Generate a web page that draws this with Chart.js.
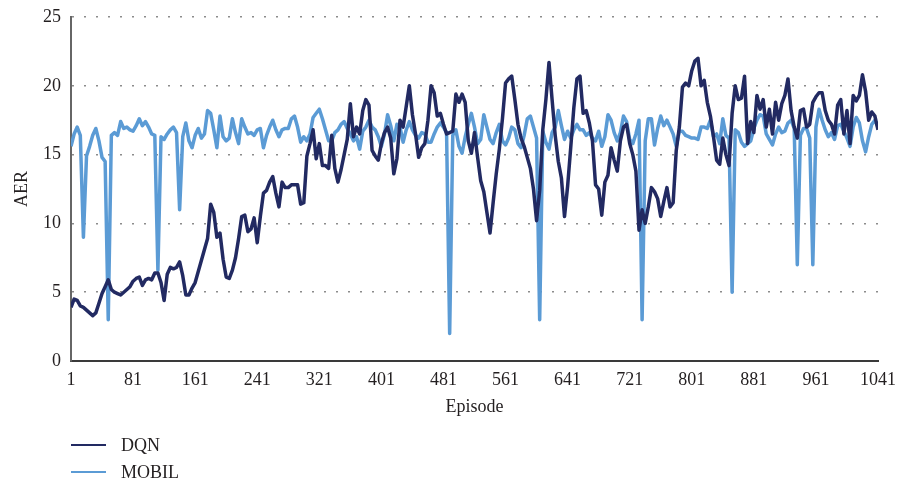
<!DOCTYPE html>
<html>
<head>
<meta charset="utf-8">
<title>AER per episode: DQN vs MOBIL</title>
<script src="https://cdn.jsdelivr.net/npm/chart.js@4.4.1/dist/chart.umd.min.js"></script>
<style>
  html, body { margin: 0; padding: 0; background: #ffffff; }
  #wrap { width: 897px; height: 487px; position: relative; }
</style>
</head>
<body>
<div id="wrap"><canvas id="chart"></canvas></div>
<script>
// Average episode reward (AER), sampled every 4 episodes from 1 to 1041
const EPISODE_STEP = 4;

const DQN_AER = [
  3.9, 4.5, 4.4, 4.0, 3.9, 3.7, 3.5, 3.3, 3.5, 4.2,
  4.9, 5.4, 5.9, 5.2, 5.0, 4.9, 4.8, 5.0, 5.2, 5.4,
  5.8, 6.0, 6.1, 5.5, 5.9, 6.0, 5.9, 6.4, 6.4, 5.7,
  4.4, 6.3, 6.8, 6.7, 6.8, 7.2, 6.2, 4.8, 4.8, 5.3,
  5.7, 6.5, 7.3, 8.1, 8.9, 11.4, 10.8, 9.0, 9.3, 7.4,
  6.1, 6.0, 6.6, 7.5, 8.9, 10.5, 10.6, 9.4, 9.6, 10.4,
  8.6, 10.5, 12.2, 12.4, 13.0, 13.4, 12.2, 11.2, 13.0, 12.6,
  12.6, 12.8, 12.8, 12.8, 11.4, 11.5, 14.9, 15.8, 16.8, 14.7,
  15.8, 14.2, 14.2, 14.0, 16.4, 14.0, 13.0, 13.9, 15.0, 16.1,
  18.7, 16.3, 17.0, 16.5, 18.2, 19.0, 18.6, 15.3, 14.9, 14.6,
  15.8, 16.6, 17.0, 16.2, 13.6, 14.7, 17.5, 17.0, 18.5, 20.0,
  17.9, 16.5, 14.8, 15.5, 15.8, 17.5, 20.0, 19.5, 17.8, 18.0,
  17.2, 16.5, 16.6, 16.7, 19.4, 18.8, 19.4, 18.8, 16.0, 15.1,
  16.6, 14.8, 13.1, 12.3, 10.8, 9.3, 11.5, 13.6, 15.4, 17.6,
  20.2, 20.5, 20.7, 19.0, 17.2, 16.2, 15.6, 14.8, 14.0, 12.5,
  10.2, 12.4, 16.8, 19.0, 21.7, 19.0, 16.4, 14.5, 13.3, 10.5,
  12.7, 15.5, 18.4, 20.5, 20.7, 18.0, 18.2, 17.3, 16.0, 12.8,
  12.5, 10.6, 13.0, 13.5, 15.5, 14.6, 13.8, 16.0, 17.0, 17.2,
  15.8, 15.0, 13.8, 9.5, 11.0, 10.0, 11.2, 12.6, 12.3, 11.8,
  10.5, 11.6, 12.6, 11.2, 11.5, 15.3, 17.0, 19.9, 20.2, 20.0,
  21.1, 21.8, 22.0, 20.0, 20.4, 18.8, 17.8, 16.3, 14.6, 14.3,
  16.2, 15.0, 14.2, 18.0, 20.0, 19.0, 19.1, 20.7, 15.8, 17.4,
  16.6, 19.3, 18.3, 19.0, 17.0, 18.3, 16.5, 18.8, 17.5, 18.7,
  19.3, 20.5, 18.2, 17.0, 16.2, 18.2, 18.3, 17.0, 17.2, 18.8,
  19.2, 19.5, 19.5, 18.2, 17.5, 17.2, 16.5, 18.6, 19.0, 16.5,
  18.2, 15.8, 19.3, 18.9, 19.3, 20.8, 19.6, 17.5, 18.1, 17.8,
  16.8
];

const MOBIL_AER = [
  15.6, 16.5, 17.0, 16.4, 9.0, 14.9, 15.6, 16.4, 16.9, 16.0,
  14.8, 14.5, 3.0, 16.4, 16.6, 16.4, 17.4, 16.9, 17.0, 16.8,
  16.7, 17.1, 17.6, 17.1, 17.4, 17.0, 16.5, 16.4, 6.6, 16.3,
  16.1, 16.5, 16.8, 17.0, 16.6, 11.0, 16.3, 17.3, 16.0, 15.5,
  16.4, 16.9, 16.2, 16.5, 18.2, 18.0, 16.8, 15.5, 17.8, 16.3,
  16.0, 16.2, 17.6, 16.6, 15.8, 17.6, 17.0, 16.5, 16.6, 16.4,
  16.8, 16.9, 15.5, 16.4, 17.0, 17.5, 16.8, 16.3, 16.8, 16.9,
  16.9, 17.6, 17.8, 17.0, 15.9, 16.3, 16.0, 16.5, 17.7, 18.0,
  18.3, 17.6, 16.8, 16.0, 16.0, 16.6, 16.8, 17.2, 17.4, 16.9,
  16.5, 16.0, 16.3, 15.4, 16.7, 17.0, 17.5, 17.0, 16.8, 16.3,
  15.6, 16.5, 17.9, 17.1, 16.0, 17.2, 17.0, 15.9, 16.8, 17.4,
  16.8, 16.4, 16.2, 16.6, 16.5, 15.9, 15.9, 16.5, 17.0, 17.3,
  17.0, 16.6, 2.0, 16.4, 16.8, 15.6, 15.1, 16.3, 17.2, 18.0,
  17.0, 15.8, 16.1, 17.9, 17.0, 16.1, 15.8, 16.6, 17.2, 16.0,
  15.7, 16.2, 17.0, 16.8, 15.8, 15.5, 16.4, 17.6, 17.8, 17.0,
  16.2, 3.0, 16.7, 15.9, 15.4, 16.6, 17.0, 18.2, 17.1, 16.1,
  16.7, 16.2, 16.8, 17.2, 16.8, 16.8, 16.4, 16.6, 16.2, 16.0,
  16.7, 15.6, 16.3, 17.9, 17.5, 16.6, 16.0, 16.6, 17.8, 17.4,
  16.1, 15.8, 16.5, 17.5, 3.0, 16.0, 17.6, 17.6, 15.7, 16.9,
  17.8, 17.1, 17.5, 17.0, 16.5, 15.6, 16.7, 16.7, 16.4, 16.3,
  16.2, 16.2, 16.1, 17.0, 17.0, 16.9, 17.5, 16.3, 16.5, 15.8,
  17.6, 16.4, 16.2, 5.0, 16.8, 16.6, 15.9, 15.6, 15.8, 16.0,
  16.9, 17.5, 17.9, 17.8, 16.5, 16.1, 15.7, 16.5, 17.0, 16.6,
  16.7, 17.3, 17.5, 16.9, 7.0, 16.4, 16.9, 16.9, 16.2, 7.0,
  17.0, 18.3, 17.5, 16.8, 16.3, 16.6, 16.1, 17.1, 17.2, 16.7,
  16.2, 15.6, 17.0, 17.7, 17.3, 16.0, 15.2, 16.3, 17.2, 17.5,
  17.0
];

const EPISODES = DQN_AER.map((_, i) => 1 + i * EPISODE_STEP);

const X_TICK_STEP = 80;
const Y_TICK_STEP = 5;

const SERIES = [
  { label: 'DQN',   values: DQN_AER,   color: '#222a62' },
  { label: 'MOBIL', values: MOBIL_AER, color: '#5b9bd5' }
];

const FONT_FAMILY = '"Liberation Serif", "Times New Roman", serif';
const TEXT_COLOR = '#231f20';

// Vertical legend under the plot: a short line sample followed by the series name
const stackedLegend = {
  id: 'stackedLegend',
  afterDraw(chart) {
    const ctx = chart.ctx;
    const rows = [445, 472];
    ctx.save();
    ctx.font = '18px ' + FONT_FAMILY;
    ctx.textBaseline = 'middle';
    ctx.textAlign = 'left';
    chart.data.datasets.forEach((ds, i) => {
      const y = rows[i];
      ctx.strokeStyle = ds.borderColor;
      ctx.lineWidth = 2;
      ctx.beginPath();
      ctx.moveTo(71, y);
      ctx.lineTo(106, y);
      ctx.stroke();
      ctx.fillStyle = TEXT_COLOR;
      ctx.fillText(ds.label, 121, y + 1);
    });
    ctx.restore();
  }
};

new Chart(document.getElementById('chart'), {
  type: 'line',
  data: {
    datasets: SERIES.map(s => ({
      label: s.label,
      data: s.values.map((v, i) => ({ x: EPISODES[i], y: v })),
      borderColor: s.color,
      backgroundColor: s.color,
      borderWidth: 3.5,
      borderJoinStyle: 'round',
      pointRadius: 0,
      pointHoverRadius: 0,
      tension: 0,
      fill: false
    }))
  },
  options: {
    responsive: true,
    maintainAspectRatio: false,
    animation: false,
    devicePixelRatio: 1,
    layout: { padding: { left: 0, right: 19, top: 17, bottom: 66 } },
    plugins: {
      legend: { display: false },
      tooltip: { enabled: false }
    },
    scales: {
      x: {
        type: 'linear',
        min: 1,
        max: 1041,
        afterFit: s => { s.height = 60; s.paddingLeft = 0; s.paddingRight = 0; },
        grid: { display: false, drawTicks: false },
        border: { display: true, color: '#3a3a3a', width: 2 },
        ticks: {
          stepSize: X_TICK_STEP,
          autoSkip: false,
          maxRotation: 0,
          padding: 8,
          color: TEXT_COLOR,
          font: { family: FONT_FAMILY, size: 18 },
          callback: v => String(v)
        },
        title: {
          display: true,
          text: 'Episode',
          color: TEXT_COLOR,
          font: { family: FONT_FAMILY, size: 18 },
          padding: { top: 0, bottom: 3 }
        }
      },
      y: {
        min: 0,
        max: 25,
        afterFit: s => { s.width = 71; s.paddingTop = 0; s.paddingBottom = 0; },
        grid: { display: true, drawTicks: false, color: '#8c8c8c', lineWidth: 1.5 },
        border: { display: true, color: '#666666', width: 2, dash: [2, 10] },
        ticks: {
          stepSize: Y_TICK_STEP,
          padding: 10,
          color: TEXT_COLOR,
          font: { family: FONT_FAMILY, size: 18 }
        },
        title: {
          display: true,
          text: 'AER',
          color: TEXT_COLOR,
          font: { family: FONT_FAMILY, size: 18 },
          padding: { top: 11, bottom: 0 }
        }
      }
    }
  },
  plugins: [stackedLegend]
});
</script>
</body>
</html>
